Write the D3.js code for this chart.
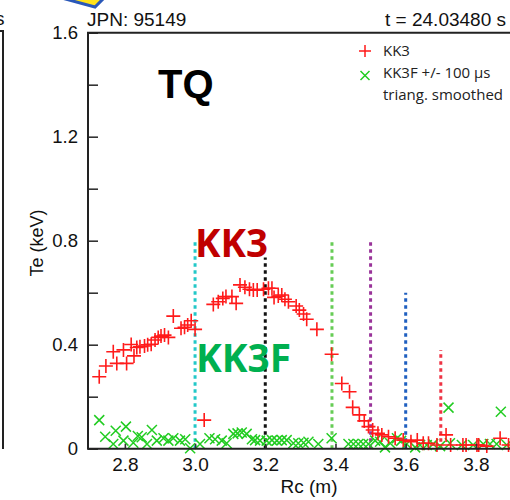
<!DOCTYPE html>
<html>
<head>
<meta charset="utf-8">
<script src="https://cdn.jsdelivr.net/npm/d3@7"></script>
<style>
  html, body { margin: 0; padding: 0; background: #fff; }
  svg { display: block; }
</style>
</head>
<body>
<svg id="chart" width="510" height="500"></svg>
<script>
// KK3 ECE electron temperature profile, R (m) vs Te (keV)
const kk3R = [2.727, 2.746, 2.767, 2.777, 2.796, 2.805, 2.818, 2.826, 2.834, 2.843,
  2.856, 2.865, 2.875, 2.886, 2.895, 2.903, 2.913, 2.924, 2.938, 2.960,
  2.970, 2.979, 2.989, 3.000, 3.026, 3.052, 3.066, 3.079, 3.088, 3.105,
  3.117, 3.128, 3.142, 3.155, 3.166, 3.177, 3.195, 3.209, 3.219, 3.225,
  3.237, 3.247, 3.256, 3.266, 3.288, 3.297, 3.309, 3.318, 3.347, 3.389,
  3.418, 3.440, 3.449, 3.468, 3.482, 3.494, 3.506, 3.521, 3.532, 3.551,
  3.570, 3.593, 3.615, 3.633, 3.650, 3.665, 3.689, 3.715, 3.728, 3.763,
  3.772, 3.803, 3.808, 3.831, 3.869, 3.893];
const kk3Te = [0.277, 0.318, 0.373, 0.328, 0.380, 0.328, 0.401, 0.357, 0.389, 0.392,
  0.395, 0.400, 0.402, 0.418, 0.428, 0.433, 0.437, 0.428, 0.510, 0.463,
  0.467, 0.476, 0.492, 0.459, 0.110, 0.555, 0.565, 0.578, 0.585, 0.585,
  0.559, 0.630, 0.621, 0.613, 0.610, 0.610, 0.613, 0.617, 0.617, 0.582,
  0.587, 0.591, 0.575, 0.565, 0.549, 0.533, 0.518, 0.498, 0.459, 0.363,
  0.251, 0.219, 0.159, 0.130, 0.107, 0.085, 0.072, 0.059, 0.053, 0.046,
  0.040, 0.033, 0.027, 0.033, 0.021, 0.021, 0.014, 0.053, 0.014, 0.014,
  0.014, 0.014, 0.014, 0.010, 0.040, 0.014];

// KK3F fast ECE, +/- 100 us triangular smoothing
const kk3fR = [2.727, 2.744, 2.767, 2.774, 2.796, 2.803, 2.824, 2.837, 2.848, 2.863,
  2.877, 2.891, 2.910, 2.924, 2.938, 2.957, 2.972, 2.986, 3.014, 3.041,
  3.057, 3.076, 3.090, 3.109, 3.121, 3.133, 3.147, 3.162, 3.171, 3.185,
  3.204, 3.219, 3.233, 3.247, 3.261, 3.280, 3.294, 3.309, 3.323, 3.351,
  3.389, 3.437, 3.451, 3.465, 3.479, 3.494, 3.513, 3.527, 3.541, 3.556,
  3.575, 3.587, 3.603, 3.627, 3.641, 3.660, 3.678, 3.698, 3.722, 3.726,
  3.760, 3.792, 3.821, 3.840, 3.859, 3.871, 3.888];
const kk3fTe = [0.110, 0.046, 0.018, 0.069, 0.031, 0.085, 0.023, 0.049, 0.044, 0.018,
  0.072, 0.031, 0.040, 0.031, 0.040, 0.031, 0.036, 0.002, 0.018, 0.040,
  0.036, 0.031, 0.021, 0.057, 0.059, 0.062, 0.057, 0.036, 0.033, 0.031,
  0.031, 0.033, 0.031, 0.033, 0.033, 0.021, 0.021, 0.023, 0.027, 0.018,
  0.040, 0.018, 0.018, 0.018, 0.018, 0.018, 0.031, 0.027, 0.005, 0.021,
  0.040, 0.030, 0.018, 0.005, 0.014, 0.014, 0.018, 0.010, 0.158, 0.021,
  0.014, 0.014, 0.018, 0.018, 0.018, 0.142, 0.014];

// Channel position markers (vertical dotted lines)
const chanR = [3.0, 3.2, 3.39, 3.5, 3.6, 3.7];
const chanTop = [0.8, 0.735, 0.8, 0.8, 0.6, 0.38];
const chanColor = ["#22c8c8", "#111111", "#66cc55", "#993399", "#1f5fc0", "#ee3344"];

const xTicks = [2.8, 3.0, 3.2, 3.4, 3.6, 3.8];
const yTicks = [0, 0.2, 0.4, 0.6, 0.8, 1.0, 1.2, 1.4, 1.6];
const yLabelled = [0, 0.4, 0.8, 1.2, 1.6];

const svg = d3.select("#chart");
const axisFont = "'Liberation Sans', Arial, sans-serif";
const noteFont = "'Open Sans', sans-serif";

const x = d3.scaleLinear().domain([2.695, 3.9]).range([88, 511]);
const y = d3.scaleLinear().domain([0, 1.6]).range([448.7, 32.7]);

// arrow tip poking in from above
svg.append("path")
  .attr("d", "M58,-3 L95,7 L105,-3 Z")
  .attr("fill", "#ffe21a").attr("stroke", "#2a58b8").attr("stroke-width", 3)
  .attr("stroke-linejoin", "miter");

// edge of the neighbouring panel
svg.append("path").attr("d", "M-2,31 L3,31 L3,449")
  .attr("fill", "none").attr("stroke", "#222").attr("stroke-width", 2);
svg.append("text").attr("x", -5).attr("y", 25).attr("font-family", axisFont)
  .attr("font-size", 19).attr("fill", "#111").text("s");

// header texts
svg.append("text").attr("x", 87).attr("y", 26).attr("font-family", axisFont)
  .attr("font-size", 19).attr("fill", "#111").text("JPN: 95149");
svg.append("text").attr("x", 506).attr("y", 26).attr("text-anchor", "end")
  .attr("font-family", axisFont).attr("font-size", 19).attr("fill", "#111")
  .text("t = 24.03480 s");

// channel lines
const chan = chanR.map((r, i) => ({ r, top: chanTop[i], c: chanColor[i] }));
svg.append("g").selectAll("line").data(chan).join("line")
  .attr("x1", d => x(d.r)).attr("x2", d => x(d.r))
  .attr("y1", y(0)).attr("y2", d => y(d.top))
  .attr("stroke", d => d.c).attr("stroke-width", 3)
  .attr("stroke-dasharray", "3.5,3.5");

// KK3F crosses
const cross = 5;
svg.append("g").selectAll("path")
  .data(kk3fR.map((r, i) => [r, kk3fTe[i]])).join("path")
  .attr("d", d => {
    const cx = x(d[0]), cy = y(d[1]);
    return `M${cx - cross},${cy - cross}L${cx + cross},${cy + cross}M${cx - cross},${cy + cross}L${cx + cross},${cy - cross}`;
  })
  .attr("stroke", "#22cc22").attr("stroke-width", 1.5).attr("fill", "none");

// KK3 pluses
const plus = 7;
svg.append("g").selectAll("path")
  .data(kk3R.map((r, i) => [r, kk3Te[i]])).join("path")
  .attr("d", d => {
    const cx = x(d[0]), cy = y(d[1]);
    return `M${cx - plus},${cy}L${cx + plus},${cy}M${cx},${cy - plus}L${cx},${cy + plus}`;
  })
  .attr("stroke", "#ff1a1a").attr("stroke-width", 1.6).attr("fill", "none");

// axes
const yAxis = d3.axisLeft(y).tickValues(yTicks).tickSize(-10).tickPadding(10)
  .tickFormat(d => yLabelled.some(v => Math.abs(v - d) < 1e-9) ? (d === 0 ? "0" : d3.format(".1f")(d)) : "");
const gy = svg.append("g").attr("transform", `translate(${x.range()[0]},0)`).call(yAxis);
gy.select(".domain").remove();
gy.selectAll(".tick line").attr("stroke", "#333").attr("stroke-width", 1.6);
gy.selectAll(".tick text").attr("font-family", axisFont).attr("font-size", 18.5).attr("fill", "#111");

const xAxis = d3.axisBottom(x).tickValues(xTicks).tickSize(-5).tickPadding(9)
  .tickFormat(d3.format(".1f"));
const gx = svg.append("g").attr("transform", `translate(0,${y(0)})`).call(xAxis);
gx.select(".domain").remove();
gx.selectAll(".tick line").attr("stroke", "#333").attr("stroke-width", 1.6);
gx.selectAll(".tick text").attr("font-family", axisFont).attr("font-size", 19).attr("fill", "#111");

// frame: left, bottom and top edges
svg.append("path")
  .attr("d", `M${x.range()[1]},${y(1.6)}L${x.range()[0]},${y(1.6)}L${x.range()[0]},${y(0)}L${x.range()[1]},${y(0)}`)
  .attr("fill", "none").attr("stroke", "#222").attr("stroke-width", 2);

// axis titles
svg.append("text").attr("x", 309).attr("y", 493).attr("text-anchor", "middle")
  .attr("font-family", axisFont).attr("font-size", 19).attr("fill", "#111").text("Rc (m)");
svg.append("text").attr("transform", "translate(43,243) rotate(-90)")
  .attr("text-anchor", "middle").attr("font-family", axisFont).attr("font-size", 18)
  .attr("fill", "#111").text("Te (keV)");

// legend
const lg = svg.append("g");
lg.append("path").attr("d", "M359,51L371,51M365,45L365,57")
  .attr("stroke", "#ff1a1a").attr("stroke-width", 1.5);
lg.append("path").attr("d", "M360.5,71L369.5,80M360.5,80L369.5,71")
  .attr("stroke", "#22cc22").attr("stroke-width", 1.5);
const legendRows = ["KK3", "KK3F +/- 100 \u03bcs", "triang. smoothed"];
lg.selectAll("text").data(legendRows).join("text")
  .attr("x", 383).attr("y", (d, i) => 56 + i * 22)
  .attr("font-family", noteFont).attr("font-size", 15).attr("fill", "#222")
  .text(d => d);

// annotations
svg.append("text").attr("x", 158).attr("y", 98).attr("font-family", axisFont)
  .attr("font-weight", "bold").attr("font-size", 40).attr("fill", "#000").text("TQ");
svg.append("text").attr("x", 195).attr("y", 257).attr("font-family", noteFont)
  .attr("font-weight", "bold").attr("font-size", 40).attr("fill", "#c00000")
  .attr("textLength", 73).attr("lengthAdjust", "spacingAndGlyphs").text("KK3");
svg.append("text").attr("x", 196).attr("y", 372).attr("font-family", noteFont)
  .attr("font-weight", "bold").attr("font-size", 40).attr("fill", "#00b050")
  .attr("textLength", 95).attr("lengthAdjust", "spacingAndGlyphs").text("KK3F");
</script>
</body>
</html>
